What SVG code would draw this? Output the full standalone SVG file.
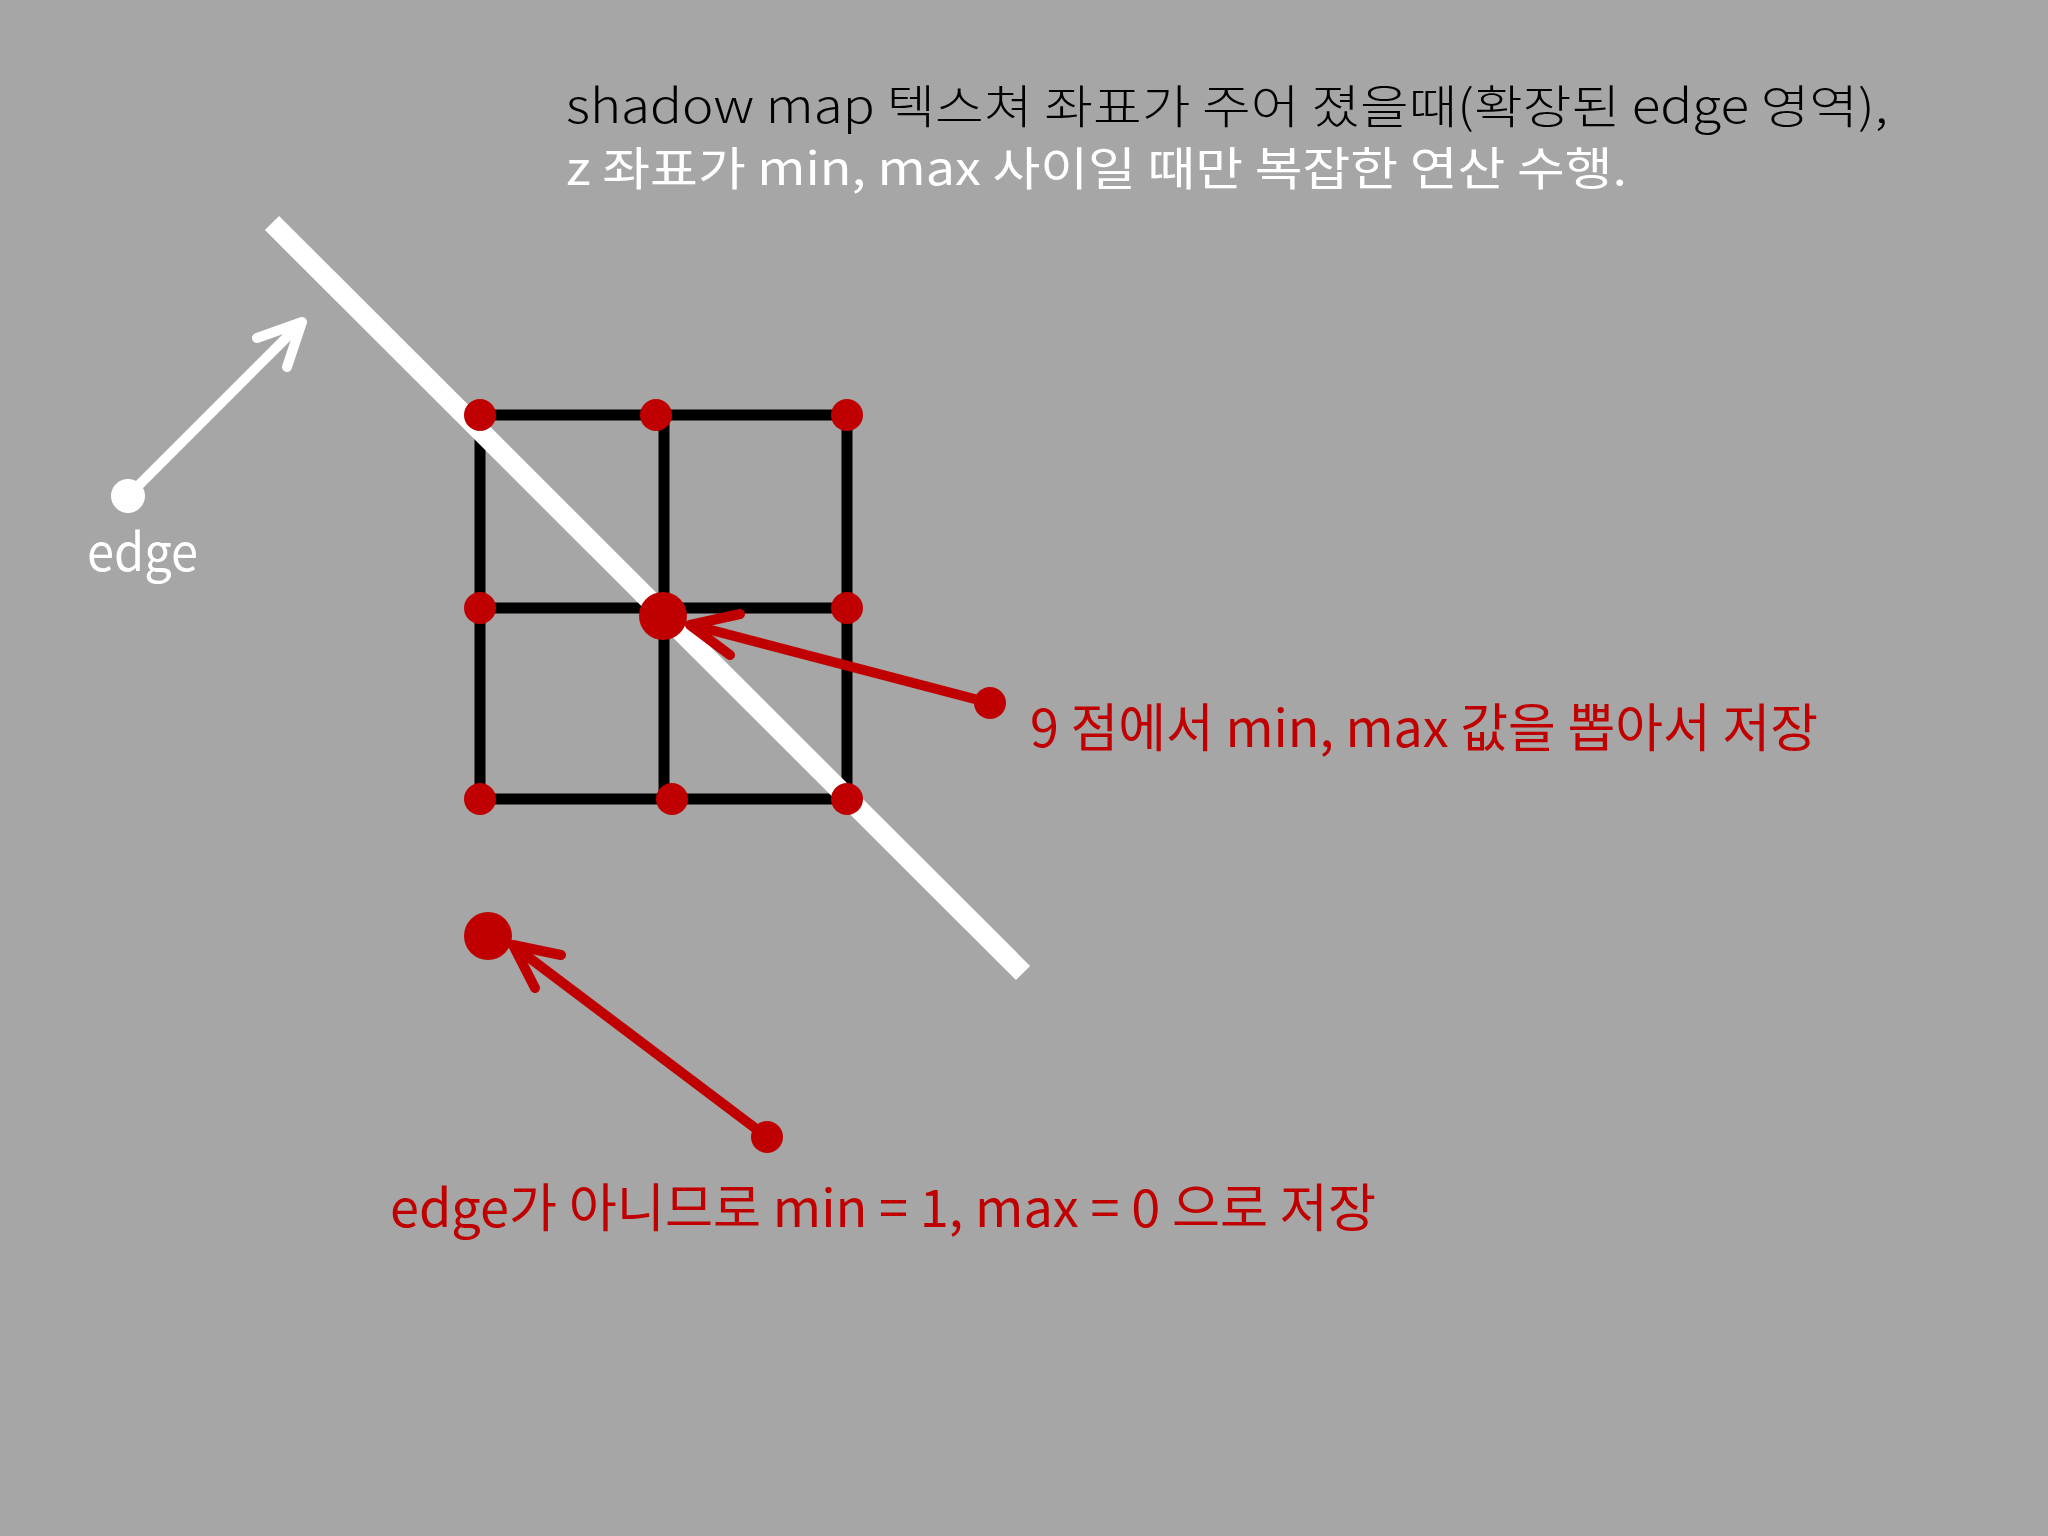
<svg xmlns="http://www.w3.org/2000/svg" width="2048" height="1536" viewBox="0 0 2048 1536">
  <style>
    .txt { font-family: "Noto Sans CJK KR", "Noto Sans", sans-serif; }
    .grid { stroke: #000000; stroke-width: 11; stroke-linecap: square; fill: none; }
    .red { stroke: #c00000; stroke-width: 10; stroke-linecap: round; stroke-linejoin: round; fill: none; }
    .white { stroke: #ffffff; stroke-width: 10; stroke-linecap: round; stroke-linejoin: round; fill: none; }
    .dot { fill: #c00000; }
  </style>
  <rect x="0" y="0" width="2048" height="1536" fill="#a6a6a6"/>

  <g id="title">
    <text class="txt" x="566" y="123" font-size="46" font-weight="300" fill="#000000" textLength="1322" lengthAdjust="spacingAndGlyphs">shadow map 텍스쳐 좌표가 주어 졌을때(확장된 edge 영역),</text>
    <text class="txt" x="566" y="185" font-size="46" font-weight="400" fill="#ffffff" textLength="1061" lengthAdjust="spacingAndGlyphs">z 좌표가 min, max 사이일 때만 복잡한 연산 수행.</text>
  </g>

  <g id="grid">
    <line class="grid" x1="480" y1="415" x2="847" y2="415"/>
    <line class="grid" x1="480" y1="608" x2="847" y2="608"/>
    <line class="grid" x1="480" y1="799" x2="847" y2="799"/>
    <line class="grid" x1="480" y1="415" x2="480" y2="799"/>
    <line class="grid" x1="664" y1="415" x2="664" y2="799"/>
    <line class="grid" x1="847" y1="415" x2="847" y2="799"/>
  </g>

  <g id="edge-line">
    <line x1="272" y1="223" x2="1023" y2="973" stroke="#ffffff" stroke-width="20"/>
  </g>

  <g id="samples">
    <circle class="dot" cx="480" cy="415" r="16"/>
    <circle class="dot" cx="656" cy="415" r="16"/>
    <circle class="dot" cx="847" cy="415" r="16"/>
    <circle class="dot" cx="480" cy="608" r="16"/>
    <circle class="dot" cx="663" cy="616" r="24"/>
    <circle class="dot" cx="847" cy="608" r="16"/>
    <circle class="dot" cx="480" cy="799" r="16"/>
    <circle class="dot" cx="672" cy="799" r="16"/>
    <circle class="dot" cx="847" cy="799" r="16"/>
  </g>

  <g id="outside-point">
    <circle class="dot" cx="488" cy="936" r="24"/>
  </g>

  <g id="connectors">
    <g id="edge-arrow">
      <circle cx="128" cy="496" r="17" fill="#ffffff"/>
      <line class="white" x1="128" y1="496" x2="300" y2="324"/>
      <polyline class="white" points="257,338 302,322 287,367"/>
    </g>
    <g id="nine-arrow">
      <circle class="dot" cx="990" cy="703" r="16"/>
      <line class="red" x1="990" y1="703" x2="692" y2="625"/>
      <polyline class="red" points="740,614 690,625 730,655"/>
    </g>
    <g id="notedge-arrow">
      <circle class="dot" cx="767" cy="1137" r="16"/>
      <line class="red" x1="767" y1="1137" x2="515" y2="947"/>
      <polyline class="red" points="561,955 513,945 535,988"/>
    </g>
  </g>

  <g id="labels">
    <text class="txt" x="87" y="571" font-size="52" fill="#ffffff" textLength="111" lengthAdjust="spacingAndGlyphs">edge</text>
    <text class="txt" x="1030" y="747" font-size="52" fill="#c00000" textLength="788" lengthAdjust="spacingAndGlyphs">9 점에서 min, max 값을 뽑아서 저장</text>
    <text class="txt" x="390" y="1227" font-size="52" fill="#c00000" textLength="986" lengthAdjust="spacingAndGlyphs">edge가 아니므로 min = 1, max = 0 으로 저장</text>
  </g>
</svg>
